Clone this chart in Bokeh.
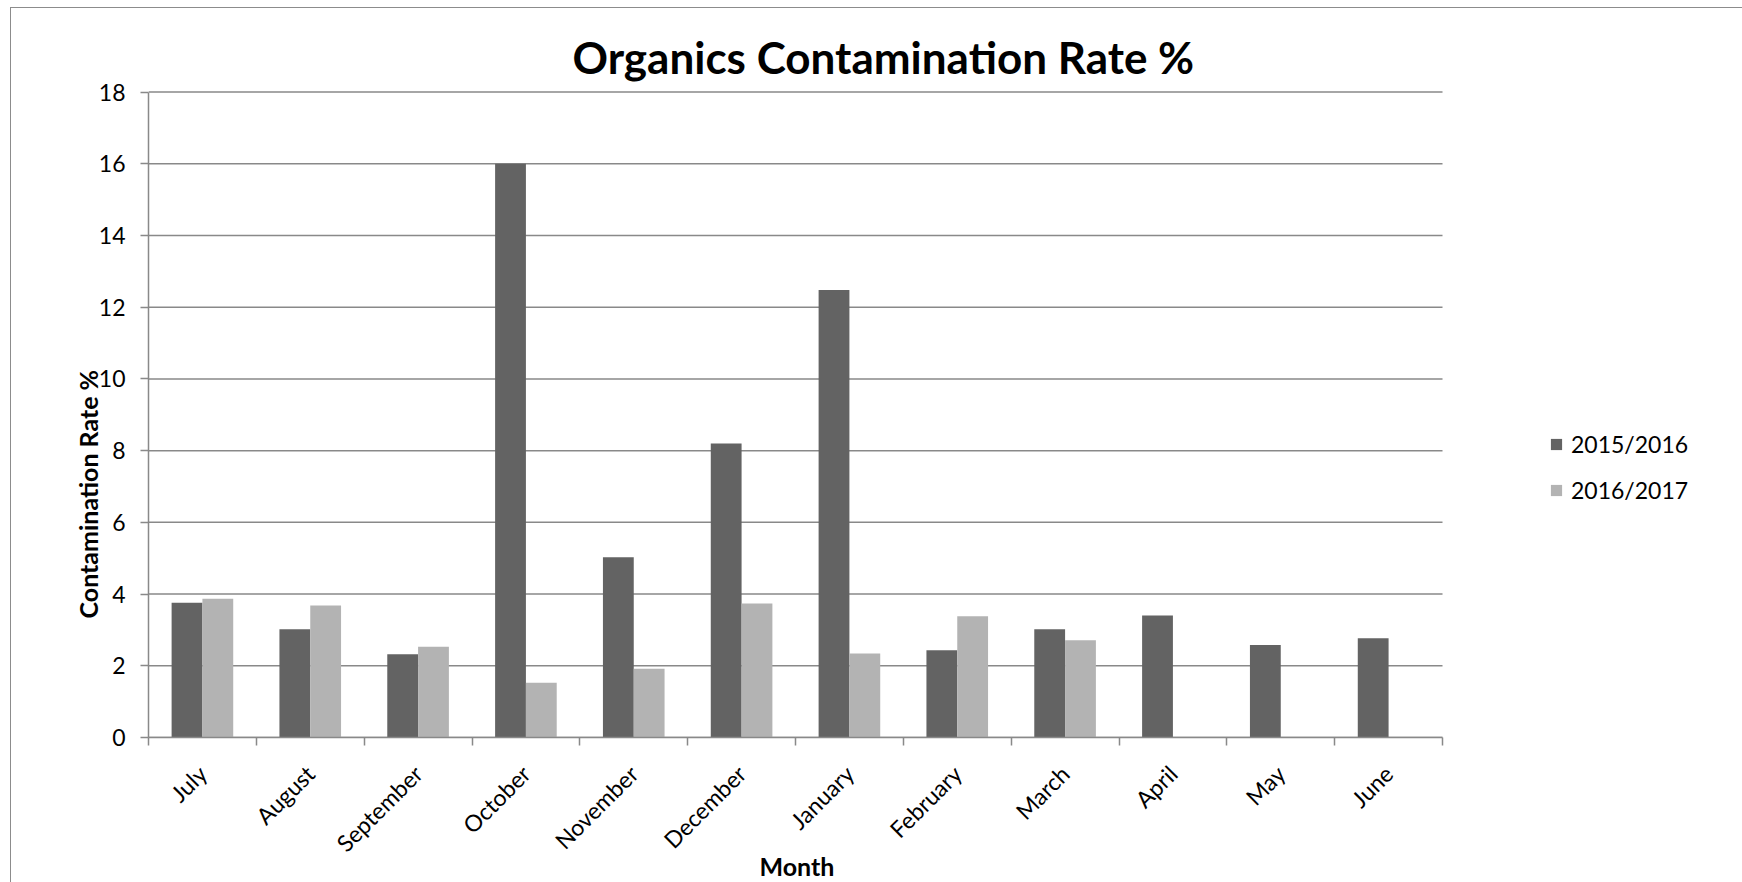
import numpy as np
from bokeh.plotting import figure
from bokeh.models import (FixedTicker, Legend, LegendItem, Title, ColumnDataSource)
from bokeh.embed import file_html
from bokeh.resources import INLINE

# Monthly contamination rates (%) for each financial year
months = ["July", "August", "September", "October", "November", "December",
          "January", "February", "March", "April", "May", "June"]
rate_2015_16 = [3.76, 3.02, 2.32, 16.0, 5.03, 8.2, 12.48, 2.43, 3.02, 3.40, 2.58, 2.77]
rate_2016_17 = [3.87, 3.68, 2.53, 1.53, 1.92, 3.74, 2.34, 3.38, 2.71, np.nan, np.nan, np.nan]
series_names = ["2015/2016", "2016/2017"]
y_ticks = [0, 2, 4, 6, 8, 10, 12, 14, 16, 18]

DARK = "#636363"
LIGHT = "#b3b3b3"
GRID = "#898989"
FONT = "Lato"

n = len(months)
centers = np.arange(n) + 0.5
bounds = np.arange(n + 1).astype(float)
bar_w = 1 / 3.5  # gap width of 150% between groups

# the plotting frame runs on to the right edge so the legend can sit beside the bars;
# the axis, ticks and grid lines stop at the last month
x_end = n * 1595 / 1294

src = ColumnDataSource(dict(
    x1=centers - bar_w / 2, x2=centers + bar_w / 2,
    a=rate_2015_16, b=rate_2016_17,
))

# chart area starts a little inside the page, with a thin grey frame
p = figure(width=1732, height=875, output_backend="svg", toolbar_location=None,
           x_range=(0, x_end), y_range=(0, 18.1),
           min_border_left=137, min_border_right=0,
           min_border_top=80, min_border_bottom=146,
           margin=(7, 0, 0, 10),
           styles={"border-left": "1px solid #8c8c8c", "border-top": "1px solid #8c8c8c"})
p.outline_line_color = None
p.background_fill_color = "white"
p.border_fill_color = "white"
p.xgrid.grid_line_color = None
p.ygrid.grid_line_color = None

# horizontal grid lines across the month span
p.segment(x0=0, x1=n, y0=y_ticks, y1=y_ticks, line_color=GRID, line_width=1.5,
          level="underlay")

r1 = p.vbar(x="x1", top="a", width=bar_w, source=src, fill_color=DARK, line_color=None)
r2 = p.vbar(x="x2", top="b", width=bar_w, source=src, fill_color=LIGHT, line_color=None)

# title
p.title.text = "Organics Contamination Rate %"
p.title.align = "left"
p.title.offset = 424
p.title.text_font = FONT
p.title.text_font_style = "bold"
p.title.text_font_size = "44px"
p.title.text_color = "black"
p.title.standoff = 12

# y axis
ya = p.yaxis[0]
ya.ticker = FixedTicker(ticks=y_ticks)
ya.bounds = (0, 18)
ya.axis_line_color = GRID
ya.axis_line_width = 1.5
ya.major_tick_line_color = GRID
ya.major_tick_line_width = 1.5
ya.major_tick_out = 8
ya.major_tick_in = 0
ya.minor_tick_line_color = None
ya.major_label_text_font = FONT
ya.major_label_text_font_size = "23px"
ya.major_label_text_color = "black"
ya.major_label_standoff = 15

# y axis title, placed along the left side
p.add_layout(Title(text="Contamination Rate %", align="left", offset=119,
                   text_font=FONT, text_font_style="bold", text_font_size="25px",
                   text_color="black", standoff=-14), "left")

# x axis: month labels at centres, ticks at category boundaries
xa = p.xaxis[0]
xa.ticker = FixedTicker(ticks=list(centers), minor_ticks=list(bounds))
xa.bounds = (0, n)
xa.major_label_overrides = {float(c): m for c, m in zip(centers, months)}
xa.major_label_orientation = np.pi / 4
xa.major_label_text_font = FONT
xa.major_label_text_font_size = "23px"
xa.major_label_text_color = "black"
xa.major_label_standoff = 24
xa.major_tick_line_color = None
xa.minor_tick_line_color = GRID
xa.minor_tick_line_width = 1.5
xa.minor_tick_out = 8
xa.minor_tick_in = 0
xa.axis_line_color = GRID
xa.axis_line_width = 1.5

# x axis title, centred under the month span
p.add_layout(Title(text="Month", align="left", offset=611, vertical_align="top",
                   text_font=FONT, text_font_style="bold", text_font_size="25px",
                   text_color="black", standoff=-40), "below")

legend = Legend(items=[LegendItem(label=series_names[0], renderers=[r1]),
                       LegendItem(label=series_names[1], renderers=[r2])],
                location=(1401, 233), glyph_width=14, glyph_height=14,
                label_text_font=FONT, label_text_font_size="23px",
                label_text_color="black",
                label_standoff=8, spacing=18, padding=0, margin=0,
                border_line_color=None, background_fill_alpha=0)
p.add_layout(legend)

open("out.html", "w").write(file_html(p, INLINE))
